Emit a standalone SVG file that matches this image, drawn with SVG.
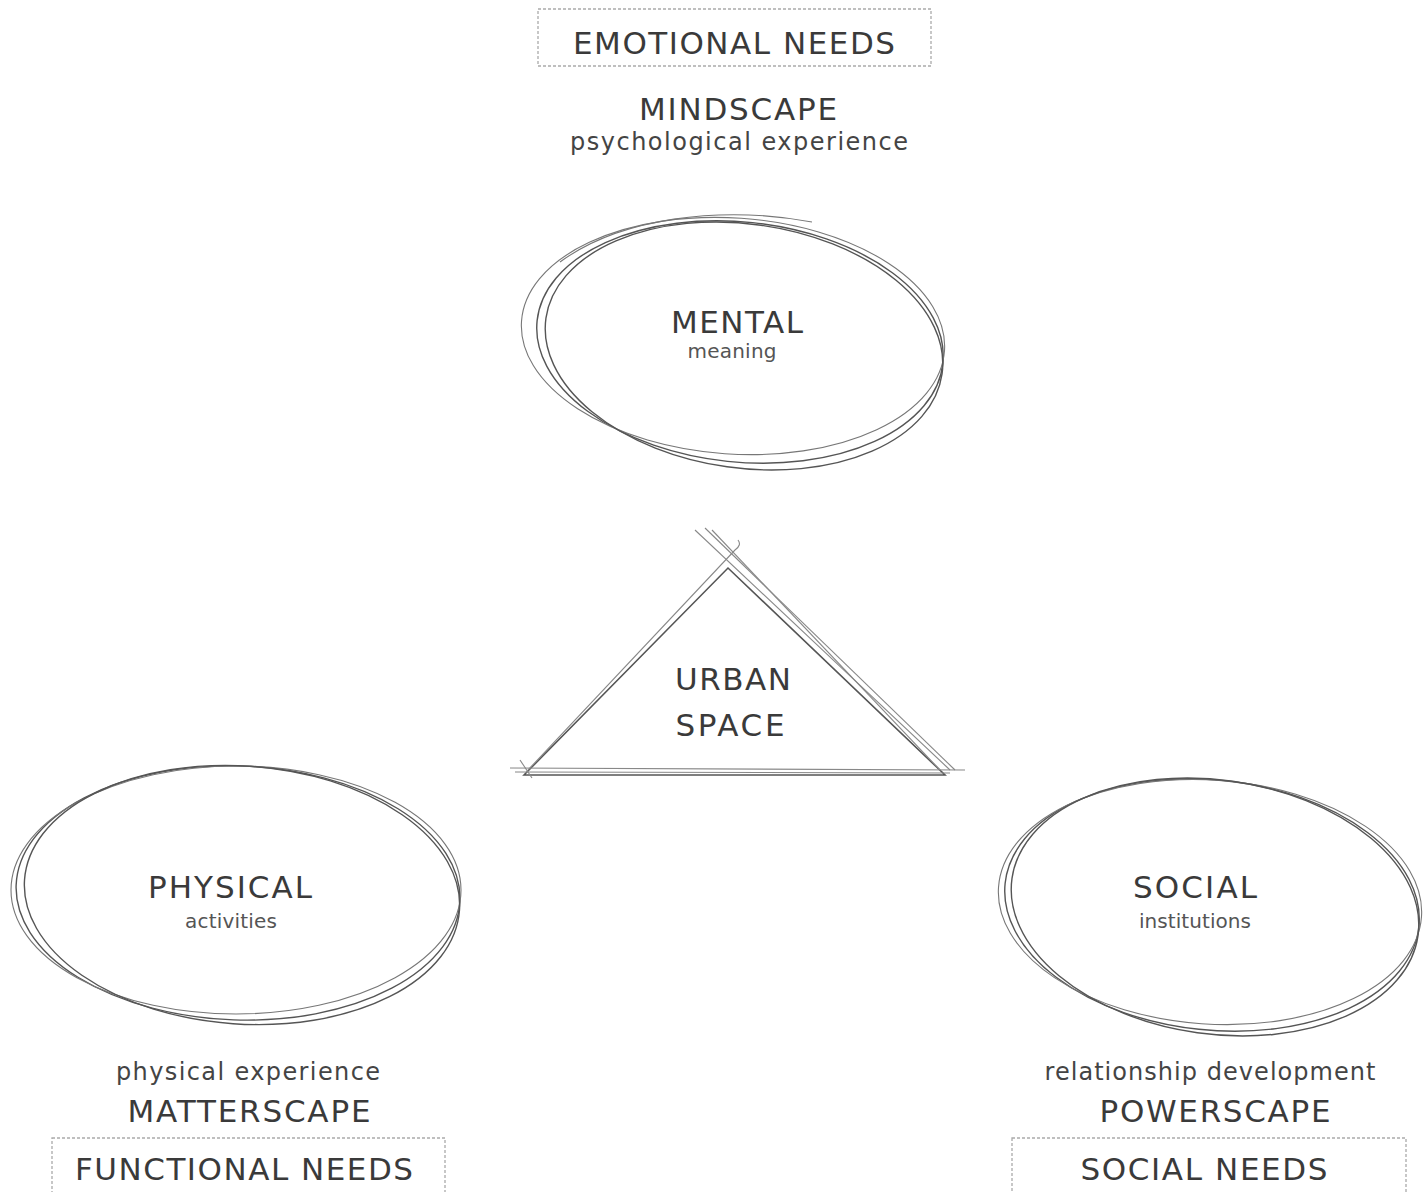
<svg xmlns="http://www.w3.org/2000/svg" width="1423" height="1192" viewBox="0 0 1423 1192">
<style>
text{font-family:"DejaVu Sans","Liberation Sans",Arial,sans-serif;fill:#3a3a3a;text-anchor:middle}
.big{font-size:31px}
.mid{font-size:24px;fill:#444}
.sm{font-size:20px;fill:#555}
.box{fill:none;stroke:#aaa;stroke-width:1.3;stroke-dasharray:3 2}
.sk{fill:none;stroke:#555;stroke-width:1.4}
.sk2{fill:none;stroke:#777;stroke-width:1.1}
.tri{fill:none;stroke:#555;stroke-width:1.6}
.tri2{fill:none;stroke:#888;stroke-width:1.1}
</style>
<rect width="1423" height="1192" fill="#fff"/>
<g id="connectors"/>
<g id="emotional">
<rect class="box" x="538" y="9" width="393" height="57"/>
<text class="big" x="734" y="54" textLength="322" lengthAdjust="spacing">EMOTIONAL NEEDS</text>
<text class="big" x="738" y="120" textLength="198" lengthAdjust="spacing">MINDSCAPE</text>
<text class="mid" x="739" y="150" textLength="338" lengthAdjust="spacing">psychological experience</text>
</g>
<g id="mental">
<ellipse class="sk" cx="740" cy="342" rx="204" ry="120" transform="rotate(6 740 342)"/>
<ellipse class="sk2" cx="733" cy="336" rx="212" ry="118" transform="rotate(4 733 336)"/>
<ellipse class="sk" cx="744" cy="346" rx="200" ry="122" transform="rotate(8 744 346)"/>
<path class="sk2" d="M560 262 C620 218 720 205 812 222"/>
<text class="big" x="737" y="333" textLength="132" lengthAdjust="spacing">MENTAL</text>
<text class="sm" x="732" y="358" textLength="89" lengthAdjust="spacing">meaning</text>
</g>
<g id="urban">
<path class="tri" d="M524 775 L728 568 L945 775 Z"/>
<path class="tri2" d="M528 770 L735 550 Q742 545 738 540"/>
<path class="tri2" d="M695 530 L950 770"/>
<path class="tri2" d="M705 528 L955 770"/>
<path class="tri2" d="M712 530 L940 770"/>
<path class="tri2" d="M510 768 L965 770"/>
<path class="tri2" d="M515 772 L950 773"/>
<path class="tri2" d="M520 760 L532 778"/>
<text class="big" x="733" y="690" font-size="33" textLength="116" lengthAdjust="spacing">URBAN</text>
<text class="big" x="730" y="736" font-size="33" textLength="109" lengthAdjust="spacing">SPACE</text>
</g>
<g id="physical">
<ellipse class="sk" cx="238" cy="893" rx="222" ry="127" transform="rotate(2 238 893)"/>
<ellipse class="sk2" cx="236" cy="890" rx="225" ry="124" transform="rotate(0 236 890)"/>
<ellipse class="sk" cx="242" cy="895" rx="218" ry="129" transform="rotate(4 242 895)"/>
<text class="big" x="230" y="898" textLength="164" lengthAdjust="spacing">PHYSICAL</text>
<text class="sm" x="231" y="928" textLength="92" lengthAdjust="spacing">activities</text>
</g>
<g id="social">
<ellipse class="sk" cx="1212" cy="905" rx="208" ry="125" transform="rotate(6 1212 905)"/>
<ellipse class="sk2" cx="1210" cy="902" rx="212" ry="122" transform="rotate(4 1210 902)"/>
<ellipse class="sk" cx="1215" cy="907" rx="205" ry="127" transform="rotate(8 1215 907)"/>
<text class="big" x="1195" y="898" textLength="124" lengthAdjust="spacing">SOCIAL</text>
<text class="sm" x="1195" y="928" textLength="112" lengthAdjust="spacing">institutions</text>
</g>
<g id="functional">
<text class="mid" x="248" y="1080" textLength="264" lengthAdjust="spacing">physical experience</text>
<text class="big" x="249" y="1122" textLength="243" lengthAdjust="spacing">MATTERSCAPE</text>
<rect class="box" x="52" y="1138" width="393" height="70"/>
<text class="big" x="244" y="1180" textLength="338" lengthAdjust="spacing">FUNCTIONAL NEEDS</text>
</g>
<g id="socialneeds">
<text class="mid" x="1210" y="1080" textLength="331" lengthAdjust="spacing">relationship development</text>
<text class="big" x="1215" y="1122" textLength="231" lengthAdjust="spacing">POWERSCAPE</text>
<rect class="box" x="1012" y="1138" width="394" height="70"/>
<text class="big" x="1204" y="1180" textLength="247" lengthAdjust="spacing">SOCIAL NEEDS</text>
</g>
</svg>
